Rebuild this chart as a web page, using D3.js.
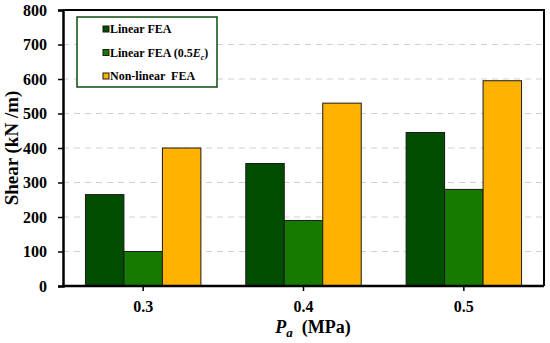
<!DOCTYPE html>
<html>
<head>
<meta charset="utf-8">
<script src="https://cdn.jsdelivr.net/npm/d3@7"></script>
<style>
  body { margin: 0; background: #fff; }
  svg text, svg tspan { font-family: "Liberation Serif", "Times New Roman", serif; font-weight: bold; }
</style>
</head>
<body>
<div class="svg-content"></div>
<script>
const categories = ["0.3", "0.4", "0.5"];
const seriesNames = ["Linear FEA", "Linear FEA (0.5Ec)", "Non-linear FEA"];
const linearFEA = [265, 355, 445];
const linearFEAHalf = [100, 190, 280];
const nonlinearFEA = [400, 530, 595];
const yTicks = [0, 100, 200, 300, 400, 500, 600, 700, 800];
const colors = ["#004d00", "#177a00", "#ffb300"];

const svgWidth = 550;
const svgHeight = 343;
const margin = { top: 10, right: 6, bottom: 57, left: 63 };
const plotW = svgWidth - margin.left - margin.right;
const plotH = svgHeight - margin.top - margin.bottom;
const fontFamily = "'Liberation Serif', 'Times New Roman', serif";

const series = [linearFEA, linearFEAHalf, nonlinearFEA];

let svg = d3.select(".svg-content")
            .append("svg")
            .attr("width", svgWidth)
            .attr("height", svgHeight)
            .attr("font-family", fontFamily)
            .attr("font-weight", "bold");

let g = svg.append("g")
           .attr("transform", "translate(" + margin.left + "," + margin.top + ")");

const xScale = d3.scaleBand()
                 .domain(categories)
                 .range([0, plotW])
                 .paddingInner(0.28)
                 .paddingOuter(0.14);

const xInner = d3.scaleBand()
                 .domain(d3.range(series.length))
                 .range([0, xScale.bandwidth()]);

const yScale = d3.scaleLinear()
                 .domain([0, 800])
                 .range([plotH, 0]);

// dashed grid
g.selectAll("line.grid")
 .data(yTicks.filter(d => d > 0 && d < 800))
 .enter()
 .append("line")
 .attr("class", "grid")
 .attr("x1", 0)
 .attr("x2", plotW)
 .attr("y1", d => yScale(d))
 .attr("y2", d => yScale(d))
 .attr("stroke", "#d0d0d0")
 .attr("stroke-width", 1)
 .attr("stroke-dasharray", "6,5");

// bars
categories.forEach((cat, i) => {
  g.selectAll("rect.bar" + i)
   .data(series.map((s, k) => ({ k: k, v: s[i] })))
   .enter()
   .append("rect")
   .attr("x", d => xScale(cat) + xInner(d.k))
   .attr("y", d => yScale(d.v))
   .attr("width", xInner.bandwidth())
   .attr("height", d => plotH - yScale(d.v))
   .attr("fill", d => colors[d.k])
   .attr("stroke", "#1a1a1a")
   .attr("stroke-width", 1);
});

// frame: top and right
g.append("path")
 .attr("d", "M0,0H" + plotW + "V" + plotH)
 .attr("fill", "none")
 .attr("stroke", "#000")
 .attr("stroke-width", 2);

const yAxis = d3.axisLeft(yScale)
                .tickValues(yTicks)
                .tickSize(5)
                .tickPadding(11);

let yAx = g.append("g").call(yAxis);
yAx.attr("font-family", fontFamily);
yAx.select(".domain").attr("stroke-width", 2.5);
yAx.selectAll(".tick line").attr("stroke-width", 1.5);
yAx.selectAll("text").style("font-size", "16px").attr("fill", "#000");

const xAxis = d3.axisBottom(xScale)
                .tickSize(5)
                .tickPadding(10)
                .tickSizeOuter(0);

let xAx = g.append("g")
           .attr("transform", "translate(0," + plotH + ")")
           .call(xAxis);
xAx.attr("font-family", fontFamily);
xAx.select(".domain").attr("d", "M0,0H" + plotW).attr("stroke-width", 2.5);
xAx.selectAll(".tick line").attr("stroke-width", 1.5);
xAx.selectAll("text").style("font-size", "16px").attr("fill", "#000");

// axis titles
svg.append("text")
   .attr("transform", "translate(18," + (margin.top + plotH / 2) + ") rotate(-90)")
   .attr("text-anchor", "middle")
   .style("font-size", "19px")
   .text("Shear (kN /m)");

let xt = svg.append("text")
            .attr("x", 313)
            .attr("y", 333)
            .attr("text-anchor", "middle")
            .style("font-size", "18px")
            .style("white-space", "pre");
xt.append("tspan").style("font-style", "italic").text("P");
xt.append("tspan").attr("dy", 4).style("font-size", "13px").style("font-style", "italic").text("a");
xt.append("tspan").attr("dy", -4).text("  (MPa)");

// legend
let lg = svg.append("g").attr("transform", "translate(77,17)");
lg.append("rect")
  .attr("width", 140)
  .attr("height", 70)
  .attr("fill", "#fff")
  .attr("stroke", "#0b4d0b")
  .attr("stroke-width", 1.5);

const legendY = d3.scalePoint().domain(d3.range(3)).range([12, 59]);

seriesNames.forEach((name, k) => {
  const y = legendY(k);
  lg.append("rect")
    .attr("x", 26)
    .attr("y", y - 3)
    .attr("width", 6)
    .attr("height", 6)
    .attr("fill", colors[k])
    .attr("stroke", "#1a1a1a")
    .attr("stroke-width", 1);
  let t = lg.append("text")
            .attr("x", 33)
            .attr("y", y + 4)
            .style("font-size", "12px");
  if (k === 1) {
    t.append("tspan").text("Linear FEA (0.5");
    t.append("tspan").style("font-style", "italic").text("E");
    t.append("tspan").attr("dy", 3).style("font-size", "8px").style("font-style", "italic").text("c");
    t.append("tspan").attr("dy", -3).text(")");
  } else if (k === 2) {
    t.style("white-space", "pre").text("Non-linear  FEA");
  } else {
    t.text(name);
  }
});
</script>
</body>
</html>
